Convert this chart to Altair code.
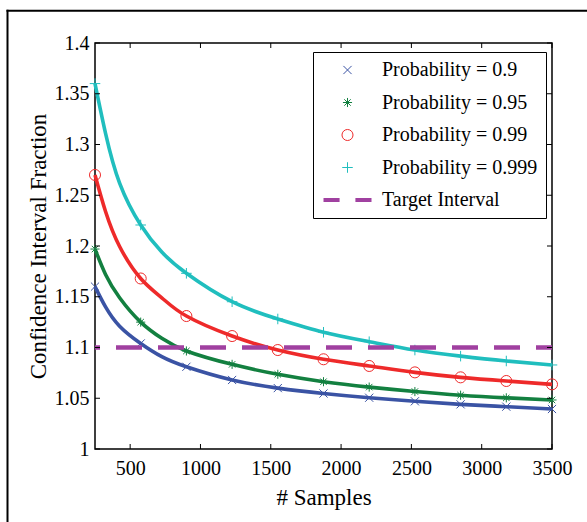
import altair as alt
import pandas as pd

# ---- data ----
# marker positions
samples = [250, 575, 900, 1225, 1550, 1875, 2200, 2525, 2850, 3175, 3500]
prob_090 = [1.160, 1.104, 1.081, 1.068, 1.060, 1.0547, 1.0505, 1.047, 1.044, 1.0417, 1.0394]
prob_095 = [1.197, 1.125, 1.0966, 1.0834, 1.0736, 1.0663, 1.0610, 1.0566, 1.0530, 1.0504, 1.0483]
prob_099 = [1.270, 1.168, 1.131, 1.1113, 1.0975, 1.0884, 1.0818, 1.0755, 1.0706, 1.0670, 1.0637]
prob_0999 = [1.360, 1.2207, 1.1731, 1.1451, 1.1281, 1.115, 1.1057, 1.0975, 1.0915, 1.0867, 1.0828]
# extra points (between markers, steep part)
curve_samples = [325, 425, 725]
curve_090 = [1.140, 1.121, 1.091]
curve_095 = [1.172, 1.149, 1.109]
curve_099 = [1.234, 1.1995, 1.1490]
curve_0999 = [1.311, 1.262, 1.194]
target_value = [1.1]
series_labels = ["Probability = 0.9", "Probability = 0.95", "Probability = 0.99",
                 "Probability = 0.999", "Target Interval"]
x_tick_values = [500, 1000, 1500, 2000, 2500, 3000, 3500]
y_tick_values = [1.0, 1.05, 1.1, 1.15, 1.2, 1.25, 1.3, 1.35, 1.4]

# ---- styles ----
colors = ["#3a53a4", "#138040", "#ee2a2a", "#20bebe", "#a040a0"]
x_path = "M-0.17,-0.17L0.17,0.17M-0.17,0.17L0.17,-0.17"
ast_path = ("M0,-0.19L0,0.19M-0.19,0L0.19,0M-0.134,-0.134L0.134,0.134"
            "M-0.134,0.134L0.134,-0.134")
circ_path = "M0.23,0A0.23,0.23,0,1,1,-0.23,0A0.23,0.23,0,1,1,0.23,0Z"
plus_path = "M-0.22,0L0.22,0M0,-0.22L0,0.22"
dash_path = ("M-1,-0.0625L-0.33,-0.0625M-1,-0.0208L-0.33,-0.0208M-1,0.0208L-0.33,0.0208"
             "M-1,0.0625L-0.33,0.0625"
             "M0.33,-0.0625L1,-0.0625M0.33,-0.0208L1,-0.0208M0.33,0.0208L1,0.0208"
             "M0.33,0.0625L1,0.0625")
shapes = [x_path, ast_path, circ_path, plus_path, dash_path]
FONT = "Liberation Serif"
W, H = 457, 406

marker_rows, curve_rows = [], []
for lab, vals, extra in zip(series_labels[:4],
                            [prob_090, prob_095, prob_099, prob_0999],
                            [curve_090, curve_095, curve_099, curve_0999]):
    for s, v in zip(samples, vals):
        marker_rows.append({"samples": s, "fraction": v, "series": lab})
        curve_rows.append({"samples": s, "fraction": v, "series": lab})
    for s, v in zip(curve_samples, extra):
        curve_rows.append({"samples": s, "fraction": v, "series": lab})
markers_df = pd.DataFrame(marker_rows)
curve_df = pd.DataFrame(curve_rows).sort_values(["series", "samples"])

xscale = alt.Scale(domain=[250, 3500], nice=False, zero=False)
yscale = alt.Scale(domain=[1.0, 1.4], nice=False, zero=False)
color_scale = alt.Scale(domain=series_labels, range=colors)
shape_scale = alt.Scale(domain=series_labels, range=shapes)

x_axis = alt.Axis(values=x_tick_values, format="d", ticks=False, tickSize=0, domain=False,
                  grid=False, labelFont=FONT, labelFontSize=20, labelColor="black",
                  labelPadding=9, labelFlush=False, title="# Samples", titleFont=FONT,
                  titleFontSize=23, titleFontWeight="normal", titleColor="black",
                  titlePadding=8)
y_axis = alt.Axis(values=y_tick_values, format=".2~f", ticks=False, tickSize=0, domain=False,
                  grid=False, labelFont=FONT, labelFontSize=20, labelColor="black",
                  labelPadding=6, labelFlush=False, title="Confidence Interval Fraction",
                  titleFont=FONT, titleFontSize=23, titleFontWeight="normal",
                  titleColor="black", titlePadding=4)

legend = alt.Legend(title=None, orient="none", legendX=218, legendY=9, fillColor="white",
                    strokeColor="black", padding=8, symbolOffset=2, labelOffset=10,
                    clipHeight=20, rowPadding=12.5, labelFont=FONT, labelFontSize=20,
                    labelColor="black", symbolSize=2304, symbolStrokeWidth=1)

X = alt.X("samples:Q", scale=xscale, axis=x_axis)
Y = alt.Y("fraction:Q", scale=yscale, axis=y_axis)

line_layers = [
    alt.Chart(curve_df).transform_filter(alt.datum.series == lab)
    .mark_line(strokeWidth=3.6, interpolate="natural", color=col)
    .encode(x=X, y=Y, order="samples:Q")
    for lab, col in zip(series_labels[:4], colors[:4])
]
points = alt.Chart(markers_df).mark_point(size=2304, strokeWidth=1, filled=False,
                                          opacity=1).encode(
    x=X, y=Y,
    color=alt.Color("series:N", scale=color_scale, legend=legend),
    shape=alt.Shape("series:N", scale=shape_scale, legend=legend),
)
target = alt.Chart(pd.DataFrame({"target": target_value})).mark_rule(
    color=colors[4], strokeWidth=4.5, strokeDash=[26, 16], strokeDashOffset=10
).encode(y=alt.Y("target:Q", scale=yscale, axis=y_axis))

xt = pd.DataFrame({"v": x_tick_values})
yt = pd.DataFrame({"v": y_tick_values})
tick_style = dict(size=5, thickness=1, color="black", opacity=1)
TX = alt.X("v:Q", scale=xscale, axis=x_axis)
TY = alt.Y("v:Q", scale=yscale, axis=y_axis)
bottom_ticks = alt.Chart(xt).mark_tick(orient="vertical", **tick_style).encode(
    x=TX, y=alt.value(H - 2.5))
top_ticks = alt.Chart(xt).mark_tick(orient="vertical", **tick_style).encode(
    x=TX, y=alt.value(2.5))
left_ticks = alt.Chart(yt).mark_tick(orient="horizontal", **tick_style).encode(
    y=TY, x=alt.value(2.5))
right_ticks = alt.Chart(yt).mark_tick(orient="horizontal", **tick_style).encode(
    y=TY, x=alt.value(W - 2.5))

frame_df = pd.DataFrame({"a": [0]})
frame_left = alt.Chart(frame_df).mark_rule(color="black", strokeWidth=2).encode(
    x=alt.value(-87.5), y=alt.value(-33.3), y2=alt.value(H + 120))
frame_top = alt.Chart(frame_df).mark_rule(color="black", strokeWidth=2).encode(
    x=alt.value(-88.5), x2=alt.value(W + 80), y=alt.value(-32.3))

chart = alt.layer(
    frame_left, frame_top, *line_layers, points, target,
    bottom_ticks, top_ticks, left_ticks, right_ticks
).properties(
    width=W, height=H,
    padding={"left": 95, "top": 43, "right": 35, "bottom": 73},
    autosize=alt.AutoSizeParams(type="none"),
    background="white",
).configure_view(stroke="black", strokeWidth=1.5)

chart.save("out.html", embed_options={"renderer": "svg", "actions": False})
